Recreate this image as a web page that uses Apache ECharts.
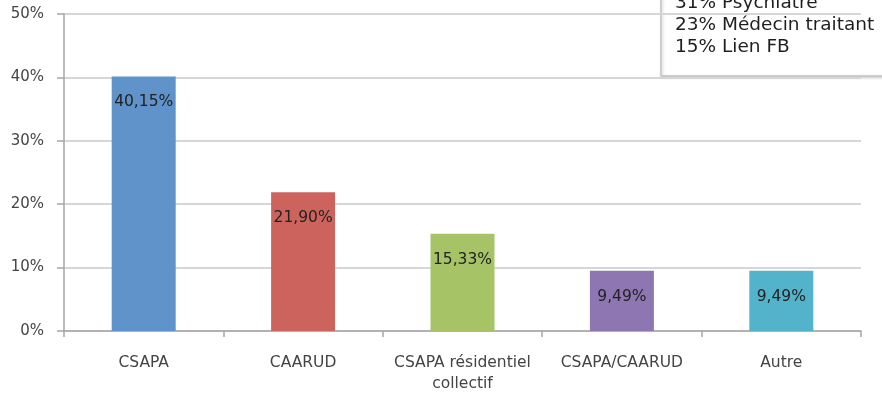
<!DOCTYPE html>
<html>
<head>
<meta charset="utf-8">
<script src="https://cdn.jsdelivr.net/npm/echarts@6/dist/echarts.min.js"></script>
<style>
  html, body { margin: 0; padding: 0; background: #fff; }
  #main { width: 882px; height: 401px; }
</style>
</head>
<body>
<div id="main"></div>
<script>
// données
var categories = ['CSAPA', 'CAARUD', 'CSAPA résidentiel\ncollectif', 'CSAPA/CAARUD', 'Autre'];
var values = [40.15, 21.90, 15.33, 9.49, 9.49];
var barColors = ['#5f93c9', '#cc645d', '#a6c465', '#8d76b1', '#52b3cb'];
var yTicks = [0, 10, 20, 30, 40, 50];
var noteLines = ['31% Psychiatre', '23% Médecin traitant', '15% Lien FB'];

var chart = echarts.init(document.getElementById('main'));

var font = '"DejaVu Sans", sans-serif';

var option = {
  animation: false,
  grid: { left: 64, right: 21, top: 14, bottom: 70 },
  xAxis: {
    type: 'category',
    data: categories,
    axisLine: { lineStyle: { color: '#a6a6a6', width: 1.5 } },
    axisTick: { show: true, length: 6, lineStyle: { color: '#a6a6a6', width: 1.5 } },
    axisLabel: { interval: 0, color: '#444', fontSize: 15.5, fontFamily: font, margin: 21, lineHeight: 21 }
  },
  yAxis: {
    type: 'value',
    min: yTicks[0],
    max: yTicks[yTicks.length - 1],
    interval: 10,
    axisLine: { show: true, lineStyle: { color: '#a6a6a6', width: 1.5 } },
    axisTick: { show: true, length: 7, lineStyle: { color: '#a6a6a6', width: 1.5 } },
    splitLine: { lineStyle: { color: '#d6d6d6', width: 2 } },
    axisLabel: { color: '#444', fontSize: 15, fontFamily: font, margin: 20, formatter: '{value}%' }
  },
  series: [{
    type: 'bar',
    barWidth: 64,
    data: values.map(function (v, i) {
      return { value: v, itemStyle: { color: barColors[i] } };
    }),
    label: {
      show: true,
      position: 'insideTop',
      distance: 18,
      color: '#222',
      fontSize: 15.5,
      fontFamily: font,
      formatter: function (p) { return p.value.toFixed(2).replace('.', ',') + '%'; }
    }
  }],
  graphic: [{
    type: 'group',
    x: 661,
    y: -4,
    children: [{
      type: 'rect',
      shape: { x: 0, y: 0, width: 240, height: 80 },
      style: { fill: '#fff', stroke: '#c4c4c4', lineWidth: 1.5, shadowBlur: 3, shadowColor: 'rgba(0,0,0,0.2)', shadowOffsetX: 1, shadowOffsetY: 1 }
    }, {
      type: 'text',
      x: 14,
      y: -4,
      style: { text: noteLines.join('\n'), fill: '#1f1f1f', font: '18.5px ' + font, lineHeight: 22 }
    }]
  }]
};

chart.setOption(option);
</script>
</body>
</html>
